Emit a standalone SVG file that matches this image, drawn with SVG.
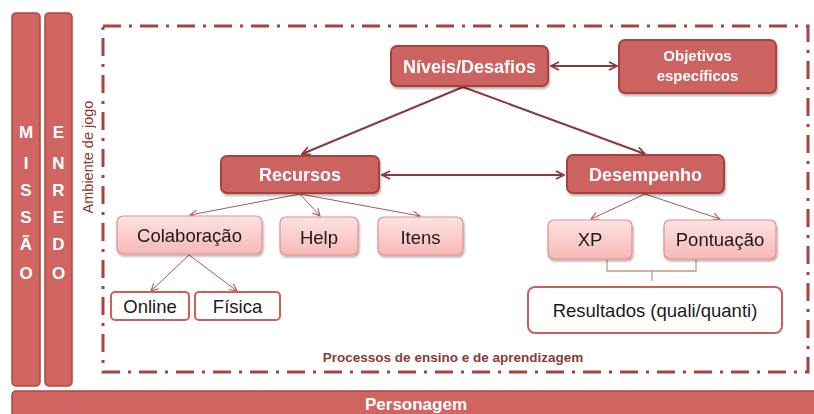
<svg xmlns="http://www.w3.org/2000/svg" width="814" height="414" viewBox="0 0 814 414">
<style>
.bar{fill:#cf6460;stroke:#a94844;stroke-width:1.5}
.dark{fill:#cd6461;stroke:#a8433f;stroke-width:2}
.light{fill:url(#pink);stroke:#e0908d;stroke-width:1.2}
.white{fill:#ffffff;stroke:#c9605c;stroke-width:2}
.wt{font-family:"Liberation Sans",Arial,sans-serif;font-weight:bold;fill:#ffffff;text-anchor:middle}
.bt{font-family:"Liberation Sans",Arial,sans-serif;fill:#1a1a1a;text-anchor:middle;font-size:18.5px}
.lbl{font-family:"Liberation Sans",Arial,sans-serif;fill:#8b3a38;text-anchor:middle}
.main{stroke:#8b3a3a;stroke-width:2;fill:none}
.thin{stroke:#a55a58;stroke-width:1;fill:none}
</style>
<defs>
<linearGradient id="pink" x1="0" y1="0" x2="0" y2="1">
<stop offset="0" stop-color="#fde3e3"/>
<stop offset="1" stop-color="#f7b8b6"/>
</linearGradient>
<filter id="sh" x="-10%" y="-10%" width="130%" height="140%">
<feDropShadow dx="1" dy="2" stdDeviation="1.2" flood-color="#000" flood-opacity="0.3"/>
</filter>
<marker id="ah" viewBox="0 0 10 10" refX="9" refY="5" markerWidth="10" markerHeight="10" markerUnits="userSpaceOnUse" orient="auto-start-reverse">
<path d="M1,1 L9,5 L1,9" fill="none" stroke="#8b3a3a" stroke-width="1.8"/>
</marker>
<marker id="as" viewBox="0 0 10 10" refX="9" refY="5" markerWidth="9" markerHeight="9" markerUnits="userSpaceOnUse" orient="auto">
<path d="M1,1 L9,5 L1,9" fill="none" stroke="#a55a58" stroke-width="1.2"/>
</marker>
</defs>

<g id="missao">
<rect class="bar" x="12" y="13" width="28" height="373" rx="4"/>
<g class="wt" font-size="17">
<text x="26" y="138">M</text><text x="26" y="169">I</text><text x="26" y="196">S</text><text x="26" y="223">S</text><text x="26" y="250">Ã</text><text x="26" y="279">O</text>
</g>
</g>
<g id="enredo">
<rect class="bar" x="45" y="13" width="27" height="373" rx="4"/>
<g class="wt" font-size="17">
<text x="58.5" y="138">E</text><text x="58.5" y="169">N</text><text x="58.5" y="196">R</text><text x="58.5" y="223">E</text><text x="58.5" y="250">D</text><text x="58.5" y="279">O</text>
</g>
</g>
<g id="personagem">
<rect class="bar" x="12" y="391" width="810" height="30" rx="4"/>
<text class="wt" x="416" y="410" font-size="17">Personagem</text>
</g>

<g id="ambiente">
<rect x="103" y="26" width="705" height="346" fill="none" stroke="#a8433f" stroke-width="3" stroke-dasharray="18,8,3,8"/>
<text class="lbl" transform="translate(93,157) rotate(-90)" font-size="14.5">Ambiente de jogo</text>
<text class="lbl" x="453" y="362" font-size="13.5" font-weight="bold">Processos de ensino e de aprendizagem</text>
</g>

<g id="connectors">
<line class="main" x1="551" y1="66" x2="617" y2="66" marker-start="url(#ah)" marker-end="url(#ah)"/>
<line class="main" x1="463" y1="87" x2="302" y2="154" marker-end="url(#ah)"/>
<line class="main" x1="463" y1="87" x2="645" y2="154" marker-end="url(#ah)"/>
<line class="main" x1="382" y1="175" x2="564" y2="175" marker-start="url(#ah)" marker-end="url(#ah)"/>
<line class="thin" x1="300" y1="194" x2="190" y2="215" marker-end="url(#as)"/>
<line class="thin" x1="300" y1="194" x2="320" y2="216" marker-end="url(#as)"/>
<line class="thin" x1="300" y1="194" x2="420" y2="216" marker-end="url(#as)"/>
<line class="thin" x1="645" y1="194" x2="591" y2="219" marker-end="url(#as)"/>
<line class="thin" x1="645" y1="194" x2="720" y2="219" marker-end="url(#as)"/>
<line class="thin" x1="189" y1="255" x2="151" y2="291" marker-end="url(#as)"/>
<line class="thin" x1="189" y1="255" x2="237" y2="291" marker-end="url(#as)"/>
<path d="M607,260 V271 H696 V260 M652,271 V281" fill="none" stroke="#c99593" stroke-width="1.3"/>
</g>

<g id="niveis" filter="url(#sh)">
<rect class="dark" x="391" y="46" width="157" height="40" rx="6"/>
<text class="wt" x="469.5" y="72.5" font-size="18">Níveis/Desafios</text>
</g>
<g id="objetivos" filter="url(#sh)">
<rect class="dark" x="619" y="40" width="157" height="53" rx="6"/>
<text class="wt" x="697.5" y="61" font-size="15">Objetivos</text>
<text class="wt" x="697.5" y="81" font-size="15">específicos</text>
</g>
<g id="recursos" filter="url(#sh)">
<rect class="dark" x="221" y="156" width="158" height="37" rx="6"/>
<text class="wt" x="300" y="181" font-size="18">Recursos</text>
</g>
<g id="desempenho" filter="url(#sh)">
<rect class="dark" x="567" y="155" width="157" height="38" rx="6"/>
<text class="wt" x="645.5" y="180.5" font-size="18">Desempenho</text>
</g>
<g id="colaboracao" filter="url(#sh)">
<rect class="light" x="117" y="216" width="145" height="38" rx="6"/>
<text class="bt" x="189.5" y="242">Colaboração</text>
</g>
<g id="help" filter="url(#sh)">
<rect class="light" x="280" y="217" width="78" height="38" rx="6"/>
<text class="bt" x="319" y="244">Help</text>
</g>
<g id="itens" filter="url(#sh)">
<rect class="light" x="378" y="217" width="85" height="38" rx="6"/>
<text class="bt" x="420.5" y="244">Itens</text>
</g>
<g id="xp" filter="url(#sh)">
<rect class="light" x="548" y="220" width="84" height="39" rx="6"/>
<text class="bt" x="590" y="246">XP</text>
</g>
<g id="pontuacao" filter="url(#sh)">
<rect class="light" x="664" y="220" width="112" height="39" rx="6"/>
<text class="bt" x="720" y="246">Pontuação</text>
</g>
<g id="online">
<rect class="white" x="111" y="292" width="78" height="28" rx="4"/>
<text class="bt" x="150" y="313">Online</text>
</g>
<g id="fisica">
<rect class="white" x="195" y="292" width="85" height="28" rx="4"/>
<text class="bt" x="237.5" y="313">Física</text>
</g>
<g id="resultados">
<rect class="white" x="528" y="287" width="254" height="46" rx="7"/>
<text class="bt" x="655" y="317">Resultados (quali/quanti)</text>
</g>
</svg>
